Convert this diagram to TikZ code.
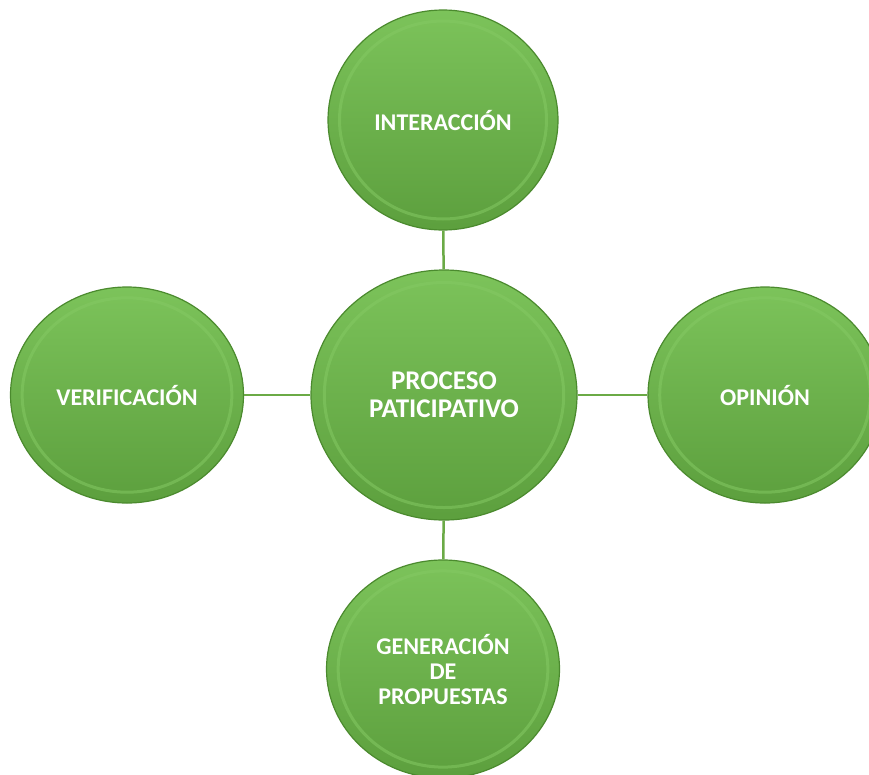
\documentclass[tikz,border=0pt]{standalone}
\usepackage{fontspec}
\setmainfont{Carlito}
\usetikzlibrary{shapes.geometric,calc}

\definecolor{bolaverde}{HTML}{69B546}
\definecolor{bolaclara}{HTML}{84C963}
\definecolor{bolaoscura}{HTML}{4B8A2E}
\definecolor{lineaverde}{HTML}{6BAA46}

\tikzset{
  bola/.style={ellipse, draw=bolaoscura, line width=1.2pt, inner sep=0pt,
    top color=bolaclara!70!bolaverde, bottom color=bolaverde!88!black,
    text=white, align=center, font=\bfseries\fontsize{24}{25}\selectfont,
    path picture={\draw[bolaclara, line width=3pt, opacity=.55]
      let \p1=($(path picture bounding box.north east)-(path picture bounding box.center)$)
      in (path picture bounding box.center) ellipse [x radius=0.9*\x1, y radius=0.9*\y1];}},
  enlace/.style={draw=lineaverde, line width=2.5pt}
}

\begin{document}
\begin{tikzpicture}[x=1pt,y=-1pt]
    \useasboundingbox (0,0) rectangle (869,774);
    % nodos
    \node [bola, minimum width=266, minimum height=250, font=\bfseries\fontsize{27}{28}\selectfont] (proceso) at (444,395) {PROCESO\\PATICIPATIVO};
    \node [bola, minimum width=230, minimum height=220] (inter) at (443,120) {INTERACCIÓN};
    \node [bola, minimum width=233, minimum height=216] (verif) at (127,395) {VERIFICACIÓN};
    \node [bola, minimum width=234, minimum height=216] (opin) at (765,395) {OPINIÓN};
    \node [bola, minimum width=233, minimum height=218] (gener) at (443,669) {GENERACIÓN\\DE\\PROPUESTAS};
    % enlaces
    \draw [enlace] (proceso) -- (inter);
    \draw [enlace] (proceso) -- (verif);
    \draw [enlace] (proceso) -- (opin);
    \draw [enlace] (proceso) -- (gener);
\end{tikzpicture}
\end{document}
